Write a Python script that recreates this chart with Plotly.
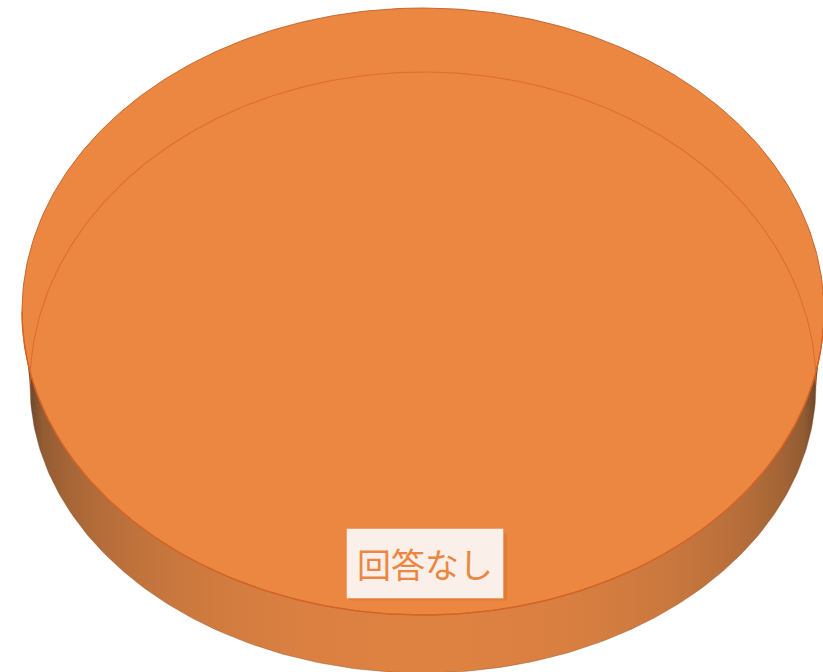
import numpy as np
import plotly.graph_objects as go

# ---- data -------------------------------------------------------------
categories = ["回答なし"]
values = [1]
slice_colors = ["rgb(236,135,66)"]

# ---- 3D pie geometry (screen units) ----------------------------------
CX, CY = 423.0, 311.5          # centre of the top face
A_TOP, B_TOP = 401.0, 303.5    # top ellipse semi-axes
CY_BOT = 385.0                 # centre of the bottom ellipse
A_BOT = 393.0
B_BOT_FRONT, B_BOT_BACK = 288.0, 313.0

W, H = 823, 672


def top_pt(theta):
    return CX + A_TOP * np.sin(theta), CY - B_TOP * np.cos(theta)


def bot_pt(theta):
    b = np.where(np.cos(theta) > 0, B_BOT_BACK, B_BOT_FRONT)
    return CX + A_BOT * np.sin(theta), CY_BOT - b * np.cos(theta)


def side_colorscale(x0, x1, n=40):
    light = np.array([222, 130, 66])
    dark = np.array([85, 60, 38])
    stops = []
    for i in range(n + 1):
        t = i / n
        x = x0 + t * (x1 - x0)
        u = np.clip((x - CX) / A_TOP, -1, 1)
        facing = np.sqrt(max(0.0, 1 - u * u)) ** 0.7
        c = dark + (light - dark) * facing
        stops.append([t, "rgb(%d,%d,%d)" % tuple(c.round().astype(int))])
    return stops


total = float(sum(values))
fractions = [v / total for v in values]
starts = np.concatenate([[0.0], np.cumsum(fractions)[:-1]]) * 2 * np.pi
ends = np.cumsum(fractions) * 2 * np.pi

fig = go.Figure()

for name, s, e, col in zip(categories, starts, ends, slice_colors):
    # outer wall: the part of the slice facing the viewer (pi/2 .. 3pi/2)
    ws, we = max(s, np.pi / 2), min(e, 3 * np.pi / 2)
    if we > ws:
        th = np.linspace(ws, we, 200)
        tx, ty = top_pt(th)
        bx, by = bot_pt(th[::-1])
        xs = np.concatenate([tx, bx, tx[:1]])
        ys = np.concatenate([ty, by, ty[:1]])
        fig.add_trace(go.Scatter(
            x=xs, y=ys, mode="lines", fill="toself",
            line=dict(width=0),
            fillgradient=dict(type="horizontal",
                              colorscale=side_colorscale(CX - A_TOP, CX + A_TOP),
                              start=CX - A_TOP, stop=CX + A_TOP),
            hoverinfo="skip", showlegend=False))
        # lower edge of the wall
        fig.add_trace(go.Scatter(
            x=bx, y=by, mode="lines",
            line=dict(width=0.6, color="rgba(140,80,40,0.7)"),
            hoverinfo="skip", showlegend=False))

    # top face
    th = np.linspace(s, e, 400)
    tx, ty = top_pt(th)
    if e - s < 2 * np.pi - 1e-9:
        tx = np.concatenate([[CX], tx, [CX]])
        ty = np.concatenate([[CY], ty, [CY]])
    fig.add_trace(go.Scatter(
        x=tx, y=ty, mode="lines", fill="toself", fillcolor=col,
        line=dict(width=1, color="rgba(190,95,40,0.9)"),
        name=name, hoverinfo="name", showlegend=False))

    # far edge of the base, seen through the top face
    thb = np.concatenate([np.linspace(3 * np.pi / 2, 2 * np.pi, 100),
                          np.linspace(0, np.pi / 2, 100)])
    bx, by = bot_pt(thb)
    fig.add_trace(go.Scatter(
        x=bx, y=by, mode="lines",
        line=dict(width=1.1, color="rgba(218,106,40,0.85)"),
        hoverinfo="skip", showlegend=False))

    # front rim of the top face
    th = np.linspace(np.pi / 2, 3 * np.pi / 2, 200)
    fx, fy = top_pt(th)
    fig.add_trace(go.Scatter(
        x=fx, y=fy, mode="lines",
        line=dict(width=1.4, color="rgb(212,100,38)"),
        hoverinfo="skip", showlegend=False))

    # data label at the slice's mid angle
    mid = (s + e) / 2
    lx = CX + 0.83 * A_TOP * np.sin(mid) + 2
    ly = CY - 0.83 * B_TOP * np.cos(mid)
    fig.add_shape(type="rect", x0=lx - 76, x1=lx + 82, y0=ly - 30, y1=ly + 37,
                  fillcolor="rgba(190,85,20,0.22)", line=dict(width=0), layer="above")
    fig.add_annotation(x=lx, y=ly, text=name, showarrow=False,
                       font=dict(family="Noto Sans CJK JP", size=34,
                                 color="rgb(236,135,66)"),
                       bgcolor="rgb(251,240,233)", borderpad=10,
                       bordercolor="rgba(240,140,80,0.6)", borderwidth=1)

fig.update_layout(
    width=W, height=H,
    margin=dict(l=0, r=0, t=0, b=0),
    paper_bgcolor="white", plot_bgcolor="white",
    xaxis=dict(range=[0, W], visible=False, fixedrange=True),
    yaxis=dict(range=[H, 0], visible=False, fixedrange=True),
    showlegend=False,
)

fig.write_html("out.html")
